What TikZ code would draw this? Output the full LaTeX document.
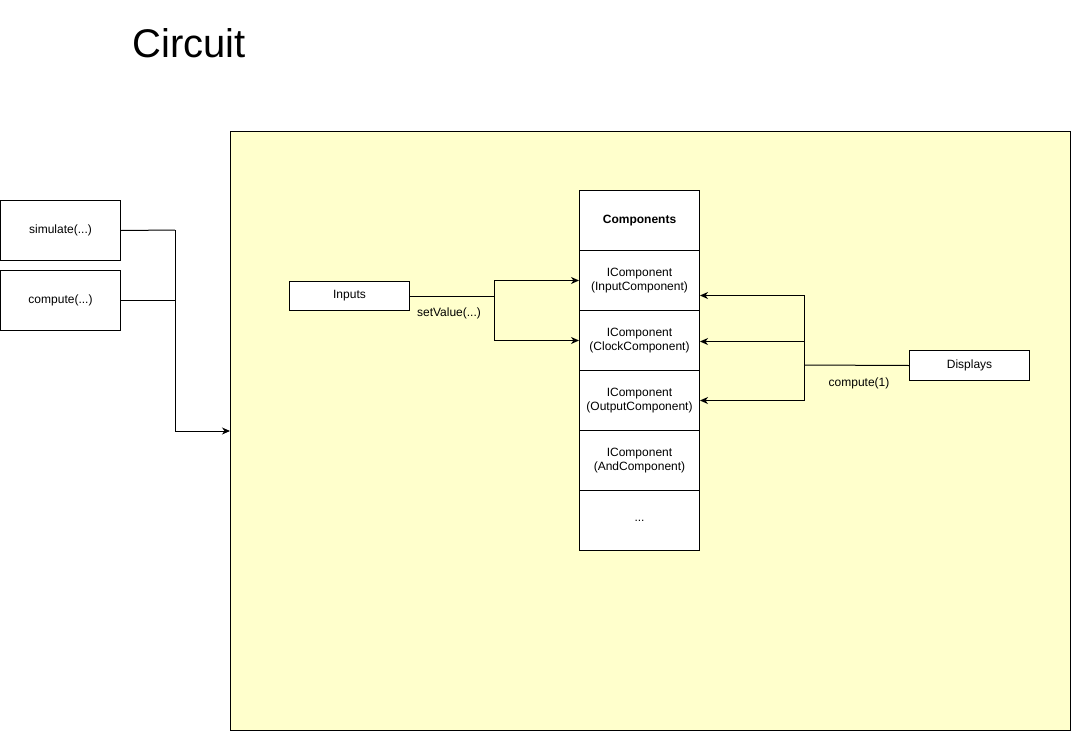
\documentclass[tikz,border=0pt]{standalone}
\usepackage{fontspec}
\setmainfont{Liberation Sans}
\usetikzlibrary{arrows.meta}
\definecolor{bgyellow}{HTML}{FFFFCC}
\begin{document}
\begin{tikzpicture}[x=1pt,y=-1pt,
  every node/.style={font=\fontsize{12}{14}\selectfont},
  box/.style={draw, line width=1pt, fill=white, minimum width=120pt, inner sep=0pt, align=center, anchor=north west},
  conn/.style={line width=1pt},
  arr/.style={line width=1pt, -{Stealth[length=8pt,width=7pt,inset=2.5pt]}},
  lbl/.style={inner sep=1pt}]
\useasboundingbox (0,0) rectangle (1071,731);
\fill[white] (0,0) rectangle (1071,731);
% title
\node[anchor=base, font=\fontsize{40}{48}\selectfont] (title) at (189,57) {Circuit};
% circuit frame
\node[draw, line width=1pt, fill=bgyellow, minimum width=840pt, minimum height=599pt, anchor=north west, inner sep=0pt] (circuit) at (230,131) {};
% left boxes
\node[box, minimum height=60pt] (sim) at (0,200) {simulate(...)};
\node[box, minimum height=60pt] (comp) at (0,270) {compute(...)};
% inputs / displays
\node[box, minimum height=29pt] (inputs) at (289,281) {Inputs};
\node[box, minimum height=30pt] (disp) at (909,350) {Displays};
% component stack
\node[box, minimum height=60pt, font=\fontsize{12}{14}\selectfont\bfseries] (c0) at (579,190) {Components};
\node[box, minimum height=60pt] (c1) at (579,250) {IComponent\\(InputComponent)};
\node[box, minimum height=60pt] (c2) at (579,310) {IComponent\\(ClockComponent)};
\node[box, minimum height=60pt] (c3) at (579,370) {IComponent\\(OutputComponent)};
\node[box, minimum height=60pt] (c4) at (579,430) {IComponent\\(AndComponent)};
\node[box, minimum height=60pt] (c5) at (579,490) {...};
% connectors left
\coordinate (j1) at (175,230);
\draw[conn] (sim.east) -- (j1);
\draw[conn] (comp.east) -- (comp.east -| j1);
\draw[arr] (j1) |- (circuit.west);
% inputs connectors
\coordinate (j2) at (494,296);
\draw[conn] (inputs.east) -- (j2);
\draw[arr] (j2) |- (c1.west);
\draw[arr] (j2) |- (c2.west);
\node[lbl] (setv) at (449,313) {setValue(...)};
% displays connectors
\coordinate (j3) at (804,365);
\draw[conn] (disp.west) -- (j3);
\draw[arr] (j3) |- ([yshift=-15pt]c1.east);
\draw[arr] (j3) |- ([yshift=-1pt]c2.east);
\draw[arr] (j3) |- (c3.east);
\node[lbl] (comp1) at (859,383) {compute(1)};
\end{tikzpicture}
\end{document}
